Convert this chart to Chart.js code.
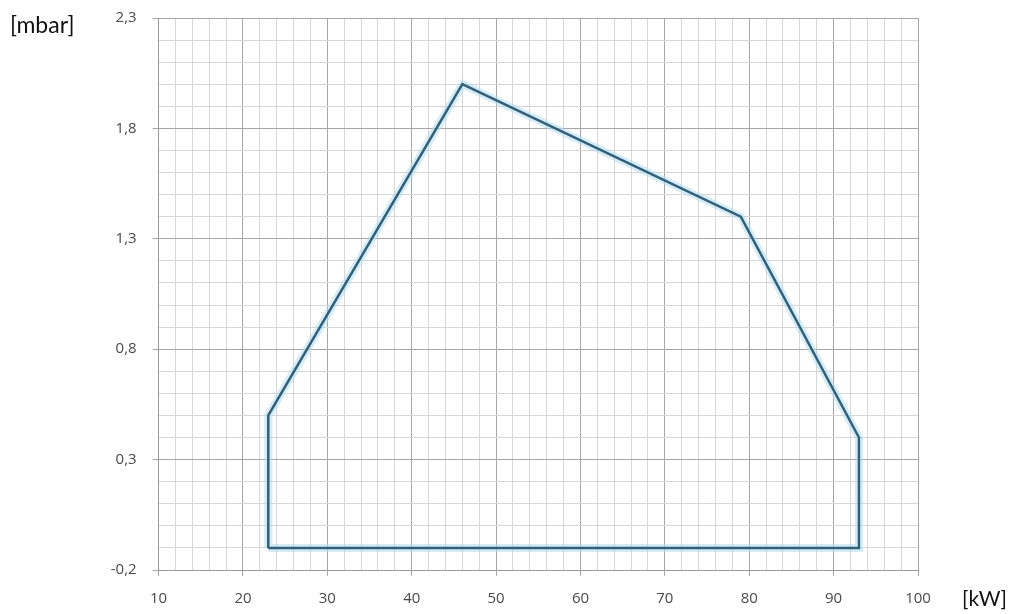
<!DOCTYPE html>
<html><head><meta charset="utf-8">
<script src="https://cdn.jsdelivr.net/npm/chart.js@4/dist/chart.umd.min.js"></script>
<style>
html,body{margin:0;padding:0;background:#fff;overflow:hidden}
#wrap{position:relative;width:1012px;height:614px}
.unit{position:absolute;font-family:'Lato','Noto Sans',sans-serif;color:#111;line-height:1}
</style></head>
<body><div id="wrap"><canvas id="c" width="1012" height="614"></canvas>
<div class="unit" style="left:10px;top:13px;font-size:23px">[mbar]</div>
<div class="unit" style="left:962px;top:587px;font-size:21px">[kW]</div></div>
<script>
// Data
const powerKW = [23, 23, 46, 79, 93, 93, 23];
const pressureMbar = [-0.1, 0.5, 2.0, 1.4, 0.4, -0.1, -0.1];
const xTickLabels = [10, 20, 30, 40, 50, 60, 70, 80, 90, 100];
const yTickValues = [-0.2, 0.3, 0.8, 1.3, 1.8, 2.3];
const yTickLabels = ['-0,2', '0,3', '0,8', '1,3', '1,8', '2,3'];

const pts = powerKW.map((x, i) => ({x: x, y: pressureMbar[i]}));
const yMajorKeys = yTickValues.map(v => Math.round(v * 10));

function xMajor(v){ return xTickLabels.includes(Math.round(v)); }
function yMajor(v){ return yMajorKeys.includes(Math.round(v * 10)); }

new Chart(document.getElementById('c'), {
  type: 'scatter',
  data: {
    datasets: [
      {data: pts, showLine: true, borderColor: '#335f77', borderWidth: 2.5, pointRadius: 0, tension: 0, order: 1},
      {data: pts, showLine: true, borderColor: 'rgba(175,220,240,0.55)', borderWidth: 8, pointRadius: 0, tension: 0, order: 2}
    ]
  },
  options: {
    responsive: false,
    animation: false,
    events: [],
    layout: {padding: {left: 0, right: 94, top: 18, bottom: 0}},
    plugins: {legend: {display: false}, tooltip: {enabled: false}},
    scales: {
      x: {
        type: 'linear', min: 10, max: 100,
        afterBuildTicks: s => { const t = []; for (let k = 10; k <= 100; k += 2) t.push({value: k}); s.ticks = t; },
        afterFit: s => { s.height = 44; s.paddingLeft = 0; s.paddingRight = 0; },
        ticks: {
          autoSkip: false, maxRotation: 0, padding: 14,
          font: {family: "'Open Sans', sans-serif", size: 15}, color: '#4a4a4a',
          callback: v => xMajor(v) ? String(Math.round(v)) : ''
        },
        grid: {
          color: c => (c.tick && xMajor(c.tick.value)) ? '#a6a6a6' : '#d6d6d6',
          lineWidth: 1,
          tickLength: 6,
          tickColor: c => (c.tick && xMajor(c.tick.value)) ? '#a6a6a6' : 'rgba(0,0,0,0)'
        },
        border: {color: '#9a9a9a'}
      },
      y: {
        type: 'linear', min: -0.2, max: 2.3,
        afterBuildTicks: s => { const t = []; for (let k = -2; k <= 23; k++) t.push({value: k / 10}); s.ticks = t; },
        afterFit: s => { s.width = 158.6; s.paddingTop = 0; s.paddingBottom = 0; },
        ticks: {
          autoSkip: false, padding: 16,
          font: {family: "'Open Sans', sans-serif", size: 15}, color: '#4a4a4a',
          callback: v => { const i = yMajorKeys.indexOf(Math.round(v * 10)); return i >= 0 ? yTickLabels[i] : ''; }
        },
        grid: {
          color: c => (c.tick && yMajor(c.tick.value)) ? '#a6a6a6' : '#d6d6d6',
          lineWidth: 1,
          tickLength: 6,
          tickColor: c => (c.tick && yMajor(c.tick.value)) ? '#a6a6a6' : 'rgba(0,0,0,0)'
        },
        border: {color: '#9a9a9a'}
      }
    }
  }
});
</script>
</body></html>
